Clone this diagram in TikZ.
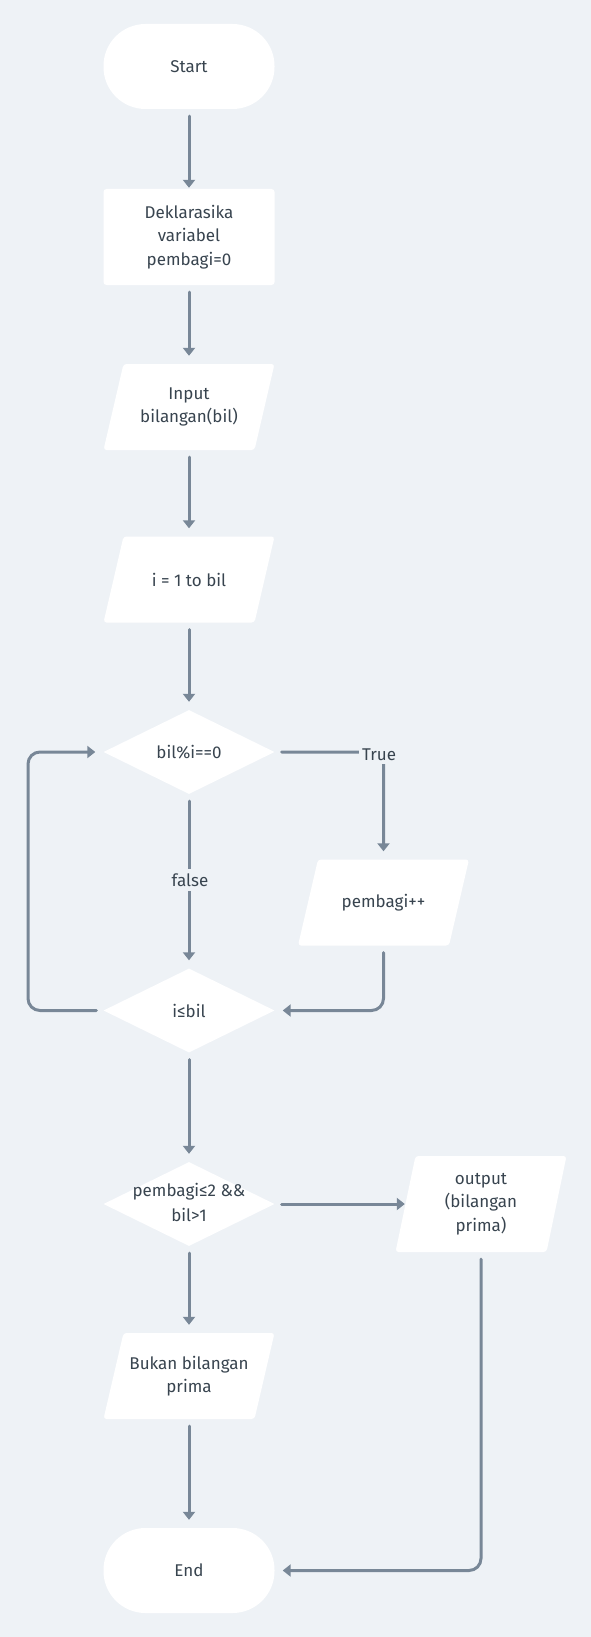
\documentclass[tikz,border=0pt]{standalone}
\usepackage{fontspec}
\setmainfont{Fira Sans}
\usetikzlibrary{shapes.geometric,arrows.meta}
\definecolor{bg}{HTML}{EEF2F6}
\definecolor{edge}{HTML}{788797}
\definecolor{ink}{HTML}{38444F}

\tikzset{
  base/.style={fill=white, draw=none, text=ink, align=center, inner sep=0pt,
    font=\fontsize{17}{23.5}\selectfont},
  terminal/.style={base, rectangle, rounded corners=42pt,
    minimum width=171pt, minimum height=85pt},
  procbox/.style={base, rectangle, rounded corners=3pt,
    minimum width=171pt, minimum height=96pt},
  % parallelogram leaning right, drawn inside the node's rectangle
  iobox/.style={base, rectangle, fill=none,
    minimum width=171pt, minimum height=86pt,
    path picture={
      \fill[white, rounded corners=3pt]
        ([xshift=20pt]path picture bounding box.north west)
        -- (path picture bounding box.north east)
        -- ([xshift=-20pt]path picture bounding box.south east)
        -- (path picture bounding box.south west) -- cycle;
    }},
  decision/.style={base, diamond, minimum width=171pt, minimum height=84pt},
  flow/.style={draw=edge, line width=3pt, line cap=round, rounded corners=12pt,
    shorten <=7pt, shorten >=8pt, -{Triangle[width=12pt,length=8pt]}},
  tag/.style={fill=bg, text=ink, inner sep=3pt,
    font=\fontsize{17}{20}\selectfont}
}
% two-line text that does not enlarge the diamond around it
\newcommand{\flatlines}[1]{\makebox[0pt]{\raisebox{-0.5ex}[0pt][0pt]{\begin{tabular}{@{}c@{}}#1\end{tabular}}}}

\begin{document}
\begin{tikzpicture}[x=1pt, y=-1pt]
  \fill[bg] (0,0) rectangle (591,1637);
  \useasboundingbox (0,0) rectangle (591,1637);

  % main column
  \node[terminal] (start) at (189,66.5) {Start};
  \node[procbox]  (decl)  at (189,237)  {Deklarasika\\variabel\\pembagi=0};
  \node[iobox]    (input) at (189,407)  {Input\\bilangan(bil)};
  \node[iobox]    (loopi) at (189,579.5){i = 1 to bil};
  \node[decision] (cond1) at (189,752)  {bil\%i==0};
  \node[iobox]    (inc)   at (383.5,902.5) {pembagi++};
  \node[decision] (cond2) at (189,1010.5) {i≤bil};
  \node[decision] (cond3) at (189,1204) {\flatlines{pembagi≤2 \&\&\\[1.5pt]bil>1}};
  \node[iobox, minimum height=96pt] (out) at (481,1204) {output\\(bilangan\\prima)};
  \node[iobox]    (notp)  at (189,1376) {Bukan bilangan\\prima};
  \node[terminal] (endn)  at (189,1570.5) {End};

  \coordinate (loopx) at (28,0);

  % connectors
  \draw[flow, shorten >=1pt] (start) -- (decl);
  \draw[flow] (decl) -- (input);
  \draw[flow] (input) -- (loopi);
  \draw[flow] (loopi) -- (cond1);
  \draw[flow] (cond1.east) -| (inc.north);
  \draw[flow] (cond1.south) -- (cond2.north);
  \draw[flow] (inc.south) |- (cond2.east);
  \draw[flow] (cond2.west) -| (loopx |- cond1.west) -- (cond1.west);
  \draw[flow] (cond2.south) -- (cond3.north);
  \draw[flow, shorten >=-9.5pt] (cond3.east) -- (out.west);
  \draw[flow] (cond3.south) -- (notp.north);
  \draw[flow] (notp.south) -- (endn.north);
  \draw[flow] (out.south) |- (endn.east);

  % branch labels
  \node[tag] (ltrue)  at (379,755) {True};
  \node[tag, inner ysep=5pt] (lfalse) at (190,880) {false};
\end{tikzpicture}
\end{document}
